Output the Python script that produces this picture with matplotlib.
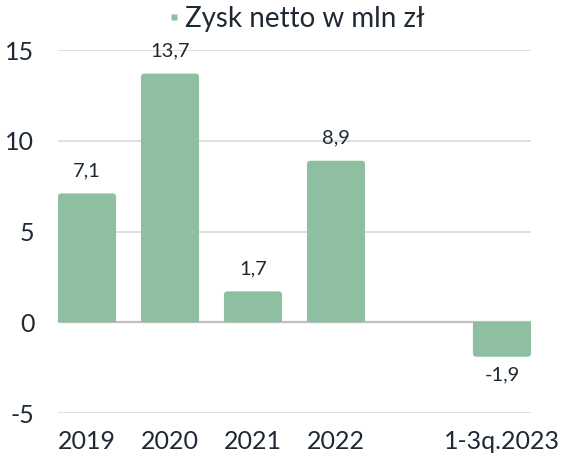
import matplotlib
matplotlib.use("Agg")
import matplotlib.pyplot as plt
from matplotlib.patches import FancyBboxPatch, Rectangle
from matplotlib.lines import Line2D

categories = ["2019", "2020", "2021", "2022", "", "1-3q.2023"]
values = [7.1, 13.7, 1.7, 8.9, None, -1.9]
series_name = "Zysk netto w mln zł"
yticks = [-5, 0, 5, 10, 15]

BAR = "#8fbfa1"
INK = "#1e2933"
GRID = "#d9d9d9"
ZERO = "#bfbfbf"
FONT = "Lato"

plt.rcParams["font.family"] = [FONT, "DejaVu Sans"]

fig = plt.figure(figsize=(5.64, 4.53), dpi=100)
ax = fig.add_axes([0.1028, 0.0883, 0.8387, 0.8013])

x = list(range(len(categories)))
h = [v if v is not None else 0 for v in values]
bars = ax.bar(x, h, width=0.7, color="none", zorder=2, label=series_name)
ax.set_xlim(-0.35, len(categories) - 0.65)
ax.set_ylim(-5, 15)

# rounded far end, square base
fig.canvas.draw()
bb = ax.get_window_extent()
px_x = bb.width / (ax.get_xlim()[1] - ax.get_xlim()[0])
px_y = bb.height / (ax.get_ylim()[1] - ax.get_ylim()[0])
r = 3.5 / px_x
for b, v in zip(bars, values):
    if v is None:
        continue
    x0, w = b.get_x(), b.get_width()
    ax.add_patch(FancyBboxPatch((x0, min(0, v)), w, abs(v),
                 boxstyle=f"round,pad=0,rounding_size={r}",
                 mutation_aspect=px_x / px_y, facecolor=BAR,
                 edgecolor="none", zorder=2))
    ax.add_patch(Rectangle((x0, 0 if v > 0 else v / 2), w, abs(v) / 2,
                 facecolor=BAR, edgecolor="none", zorder=2))
    lab = f"{v:.1f}".replace(".", ",")
    if v >= 0:
        ax.annotate(lab, (b.get_x() + w / 2, v), xytext=(0, 10),
                    textcoords="offset points", ha="center", va="bottom",
                    fontsize=14.5, color=INK)
    else:
        ax.annotate(lab, (b.get_x() + w / 2, v), xytext=(0, -7),
                    textcoords="offset points", ha="center", va="top",
                    fontsize=14.5, color=INK)

ax.set_yticks(yticks)
ax.set_yticklabels([str(t) for t in yticks])
ax.set_xticks(x)
ax.set_xticklabels(categories)
ax.tick_params(axis="y", length=0, pad=17, labelsize=18, labelcolor=INK)
ax.tick_params(axis="x", length=0, pad=12, labelsize=18, labelcolor=INK)
for t in yticks:
    ax.axhline(t, color=ZERO if t == 0 else GRID, lw=1.6 if t == 0 else 1.2,
               zorder=1)
for s in ax.spines.values():
    s.set_visible(False)

handle = Line2D([], [], marker="s", markersize=4, linestyle="none",
                markerfacecolor=BAR, markeredgecolor="none")
ax.legend([handle], [series_name], loc="center", bbox_to_anchor=(0.505, 1.085),
          frameon=False, fontsize=20, handlelength=0.3,
          handletextpad=0.25, labelcolor=INK)

fig.savefig("out.png", dpi=100, facecolor="white")
